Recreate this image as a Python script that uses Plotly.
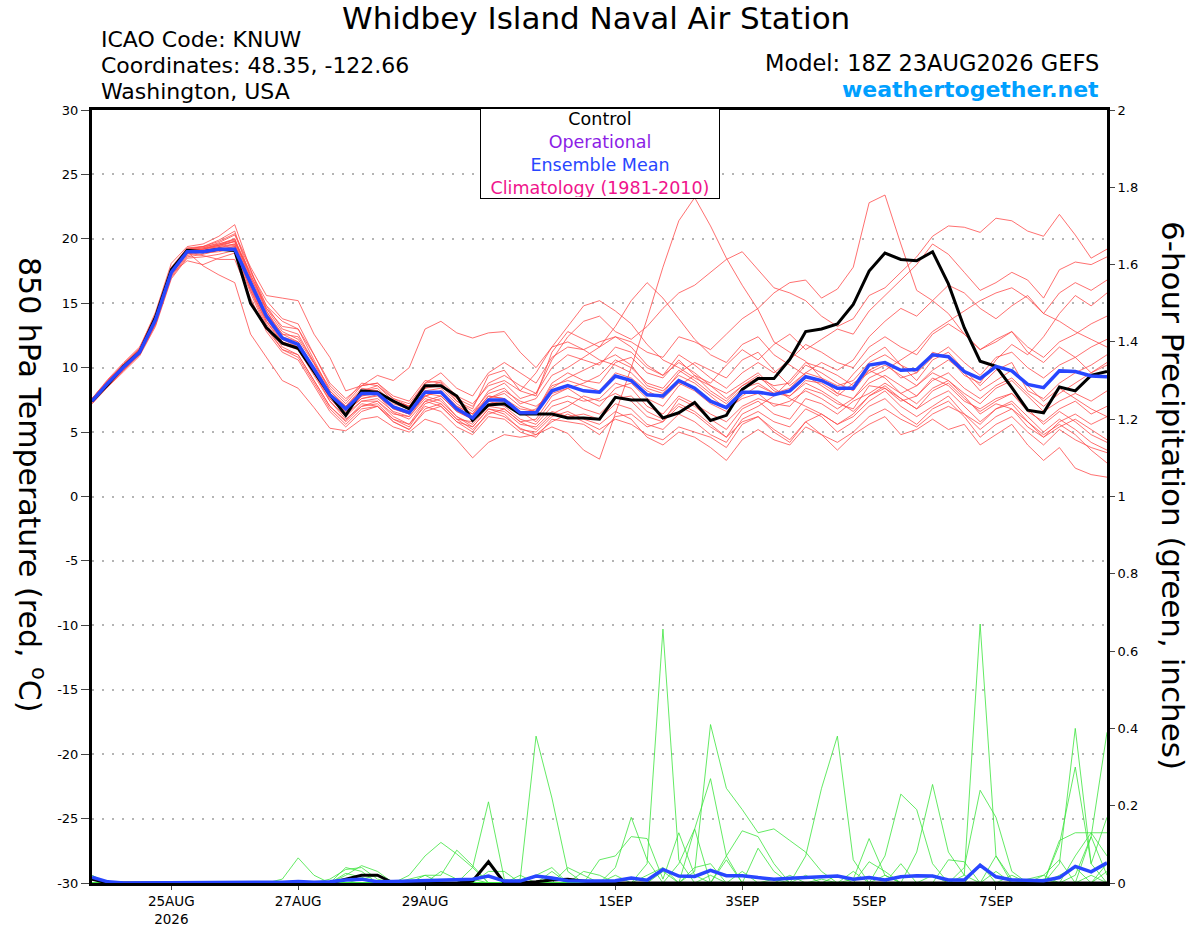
import pandas as pd
import plotly.graph_objects as go

# 6-hourly GEFS output, 18Z 23AUG2026 + 384h
horas = pd.date_range("2026-08-23 18:00", periods=65, freq="6h")

# 850 hPa temperature, ensemble members (C)
t_m01 = [7.3, 8.6, 9.9, 11.0, 13.4, 17.2, 18.8, 19.2, 19.6, 20.0,
         17.2, 14.6, 12.8, 12.2, 10.3, 8.0, 6.6,
         7.6, 7.9, 6.5, 6.0, 7.4, 7.0, 5.8, 5.0, 6.6, 6.2, 5.3, 4.8, 5.4, 4.9,
         3.6, 2.9, 6.5, 10.0, 13.8, 17.8, 21.4, 23.2, 21.0, 18.5, 16.4, 14.5, 12.0, 11.2,
         10.5, 9.2, 8.0, 9.5, 10.8, 11.6, 10.2, 9.0, 10.6, 11.2, 9.8, 8.6, 9.8, 10.4, 8.2, 7.6, 8.8, 9.6, 10.2, 11.0]
t_m02 = [7.6, 9.1, 10.4, 11.6, 14.1, 17.8, 19.3, 19.4, 19.8, 20.4,
         17.8, 15.6, 15.4, 15.2, 12.6, 10.8, 8.2,
         8.6, 9.4, 9.0, 10.0, 13.0, 13.6, 12.7, 12.3, 12.7, 12.8, 11.2, 10.0, 11.6, 13.2,
         14.8, 15.2, 14.4, 13.4, 11.8, 10.6, 10.0, 9.2, 8.6, 8.0, 8.8, 9.6, 8.4, 7.6,
         7.0, 6.4, 5.6, 6.2, 7.4, 8.2, 7.0, 6.2, 7.0, 7.8, 6.4, 5.6, 6.8, 7.2, 5.8, 4.6, 5.4, 6.0, 5.2, 4.4]
t_m03 = [7.5, 9.0, 10.3, 11.5, 14.3, 18.1, 19.4, 19.6, 20.2, 21.1,
         17.6, 14.8, 13.0, 12.6, 10.4, 8.4, 7.2,
         8.6, 8.8, 7.6, 7.0, 8.4, 8.9, 7.4, 6.6, 8.0, 8.4, 7.2, 7.6, 9.4, 10.0,
         10.8, 11.6, 12.4, 12.0, 11.2, 10.8, 12.4, 12.0, 11.4, 12.6, 13.8, 14.6, 15.8, 16.6,
         16.8, 15.4, 16.1, 17.8, 22.8, 23.4, 19.6, 16.0, 15.2, 14.2, 12.6, 11.4, 12.0, 12.8, 11.2, 10.4, 11.6, 10.8, 9.6, 10.2]
t_m04 = [7.2, 8.5, 9.7, 10.9, 13.2, 16.9, 18.5, 18.6, 18.8, 19.1,
         16.0, 13.6, 12.0, 11.4, 9.4, 7.4, 6.2,
         7.4, 7.6, 6.6, 6.2, 7.8, 8.2, 7.0, 6.4, 8.2, 8.8, 7.6, 8.0, 10.6, 12.4,
         13.6, 14.0, 12.8, 12.2, 13.2, 14.6, 15.8, 16.4, 17.4, 18.4, 19.0, 17.6, 16.2, 15.8,
         15.2, 14.0, 13.2, 13.8, 15.6, 16.2, 17.4, 18.6, 20.2, 21.0, 20.9, 20.5, 21.6, 21.4, 20.6, 20.2, 21.9, 20.3, 18.5, 19.2]
t_m05 = [7.4, 8.8, 10.1, 11.3, 13.8, 17.5, 19.0, 17.9, 17.2, 16.6,
         12.6, 10.8, 9.0, 8.4, 6.9, 5.3, 5.1,
         6.0, 6.2, 5.4, 5.0, 6.0, 5.6, 4.4, 3.0, 4.2, 4.8, 4.6, 4.8, 5.8, 6.4,
         5.8, 5.2, 6.0, 5.6, 4.8, 4.4, 5.4, 5.0, 4.6, 3.8, 5.6, 6.2, 5.0, 4.2,
         5.8, 4.8, 3.6, 4.8, 5.6, 6.2, 4.8, 5.2, 6.0, 5.2, 5.6, 4.0, 4.8, 5.6, 4.0, 2.8, 3.8, 2.2, 1.7, 1.5]
t_m06 = [7.5, 8.9, 10.2, 11.4, 13.6, 17.3, 18.3, 18.0, 18.5, 18.9,
         15.8, 13.0, 11.4, 11.0, 9.0, 7.0, 5.8,
         7.0, 7.2, 6.0, 5.4, 7.2, 7.6, 6.2, 5.6, 7.0, 6.8, 5.8, 6.0, 7.8, 8.4,
         7.6, 7.0, 8.4, 8.8, 7.6, 7.0, 8.6, 9.4, 8.8, 10.2, 11.4, 10.6, 11.8, 12.6,
         11.4, 12.2, 13.0, 12.6, 14.4, 15.6, 16.8, 18.0, 19.6, 18.8, 17.4, 16.0, 16.6, 17.4, 16.8, 15.4, 17.6, 18.2, 18.0, 18.6]
t_m07 = [7.6, 9.0, 10.2, 11.3, 13.9, 17.6, 19.1, 19.3, 19.5, 19.8,
         17.4, 15.2, 13.8, 13.4, 11.0, 8.6, 7.4,
         8.8, 8.6, 7.6, 7.2, 8.8, 9.0, 7.8, 7.2, 8.6, 9.0, 8.2, 7.8, 11.2, 12.8,
         12.2, 11.6, 13.2, 15.2, 16.6, 15.4, 13.8, 12.2, 11.0, 10.4, 11.8, 12.4, 11.0, 10.2,
         9.4, 8.6, 7.8, 8.8, 9.6, 10.2, 9.4, 8.6, 9.8, 10.6, 9.6, 8.2, 9.0, 9.8, 8.6, 7.4, 8.4, 7.6, 6.8, 6.2]
t_m08 = [7.3, 8.7, 9.9, 11.1, 13.5, 17.3, 19.0, 19.1, 19.4, 19.6,
         16.8, 14.2, 12.6, 12.0, 10.0, 8.0, 7.0,
         8.2, 8.4, 7.2, 6.8, 8.4, 8.6, 7.4, 6.8, 9.4, 9.8, 8.2, 9.6, 11.6, 12.0,
         11.4, 10.6, 10.2, 9.6, 8.4, 8.0, 9.6, 10.4, 9.8, 9.2, 10.6, 11.2, 9.8, 8.6,
         9.6, 10.4, 9.8, 10.6, 12.4, 13.6, 14.6, 14.0, 15.2, 16.4, 15.8, 14.6, 13.8, 14.8, 15.6, 14.2, 15.8, 16.6, 16.0, 16.8]
t_m09 = [7.4, 8.9, 10.0, 11.2, 13.8, 17.4, 18.9, 18.9, 19.0, 19.3,
         16.4, 13.6, 11.8, 11.4, 9.6, 7.6, 6.4,
         7.4, 7.4, 6.4, 6.2, 7.6, 7.2, 6.0, 5.8, 7.2, 7.4, 6.6, 5.8, 7.4, 7.8,
         7.4, 7.6, 8.8, 8.4, 7.0, 6.4, 7.8, 7.2, 6.4, 5.8, 7.0, 7.6, 7.2, 7.0,
         8.4, 8.0, 7.2, 6.8, 8.6, 8.4, 7.4, 7.8, 9.2, 8.6, 7.4, 6.8, 7.6, 8.0, 6.6, 5.8, 6.8, 7.4, 6.4, 7.0]
t_m10 = [7.5, 8.8, 10.0, 11.2, 13.7, 17.5, 19.2, 19.3, 19.7, 20.3,
         17.6, 14.4, 12.4, 12.0, 9.8, 7.6, 6.4,
         7.8, 8.0, 6.8, 6.4, 7.8, 7.4, 6.2, 5.4, 6.8, 6.6, 5.6, 5.4, 6.6, 6.2,
         6.4, 6.0, 7.2, 6.8, 5.6, 5.2, 6.4, 5.8, 4.8, 4.2, 6.0, 6.6, 5.8, 5.4,
         6.8, 6.2, 5.0, 5.8, 7.0, 7.6, 6.4, 5.6, 6.8, 7.4, 6.2, 4.6, 5.6, 6.2, 5.0, 4.0, 5.2, 4.4, 3.8, 3.4]
t_m11 = [7.4, 8.8, 10.0, 11.2, 13.6, 17.4, 19.2, 19.4, 19.9, 20.6,
         17.0, 14.4, 12.6, 12.4, 10.4, 8.2, 7.0,
         8.4, 8.2, 7.4, 7.0, 8.0, 7.8, 6.6, 6.0, 7.6, 8.0, 7.0, 6.6, 8.8, 9.6,
         9.0, 8.8, 10.4, 10.8, 9.6, 9.2, 10.6, 9.4, 8.2, 7.4, 8.6, 9.2, 8.6, 8.8,
         10.2, 9.6, 8.8, 8.2, 9.8, 10.4, 9.2, 9.6, 11.2, 10.8, 9.4, 8.8, 10.6, 11.8, 11.0, 12.4, 14.2, 15.6, 14.8, 15.8]
t_m12 = [7.2, 8.6, 9.8, 11.0, 13.4, 17.1, 18.7, 19.0, 19.3, 19.6,
         16.2, 13.4, 11.6, 11.0, 9.0, 7.0, 5.9,
         7.2, 7.0, 6.0, 5.6, 7.0, 6.6, 5.4, 4.8, 6.2, 6.0, 5.0, 4.6, 6.0, 5.8,
         5.6, 4.8, 6.2, 6.4, 5.4, 5.8, 7.6, 7.0, 6.0, 5.2, 6.8, 7.4, 6.4, 6.0,
         7.6, 7.2, 6.4, 7.4, 8.0, 8.8, 8.0, 7.2, 8.4, 9.0, 7.8, 6.4, 7.2, 6.8, 5.4, 4.6, 5.8, 6.4, 5.6, 6.2]
t_m13 = [7.6, 9.0, 10.3, 11.4, 14.0, 17.7, 19.2, 19.4, 19.6, 19.9,
         17.0, 14.6, 13.2, 13.0, 11.0, 8.8, 7.6,
         8.6, 8.8, 7.8, 7.4, 9.0, 8.8, 7.6, 7.0, 8.8, 9.4, 8.6, 8.0, 10.0, 11.0,
         10.6, 10.2, 11.6, 11.2, 10.0, 9.4, 11.0, 10.2, 9.2, 8.4, 9.6, 10.4, 9.6, 10.6,
         11.8, 11.2, 10.4, 10.0, 11.6, 12.4, 11.6, 11.0, 12.6, 13.4, 12.6, 11.4, 12.2, 12.8, 11.6, 10.8, 12.0, 12.6, 13.4, 14.0]
t_m14 = [7.3, 8.7, 10.0, 11.1, 13.6, 17.3, 18.9, 19.0, 19.2, 19.4,
         16.4, 13.8, 12.2, 11.6, 9.6, 7.4, 6.0,
         7.0, 7.4, 6.2, 5.6, 7.4, 7.8, 6.6, 6.0, 7.4, 7.0, 6.0, 5.6, 7.0, 7.4,
         6.8, 6.4, 7.6, 7.8, 6.6, 6.0, 7.2, 6.6, 5.6, 4.6, 6.4, 7.0, 7.8, 9.0,
         10.4, 10.0, 9.4, 8.6, 9.8, 9.2, 8.0, 8.6, 9.6, 9.0, 8.0, 7.2, 8.4, 9.0, 7.8, 6.6, 7.4, 8.0, 7.4, 8.2]
t_m15 = [7.5, 8.9, 10.1, 11.3, 13.9, 17.6, 19.1, 19.2, 19.5, 20.0,
         16.8, 14.0, 12.2, 11.8, 9.8, 7.8, 6.8,
         8.0, 8.2, 7.0, 6.6, 8.2, 8.0, 6.8, 6.2, 7.8, 7.6, 6.4, 6.8, 8.4, 9.2,
         9.8, 10.4, 11.0, 10.2, 8.6, 8.2, 9.4, 8.8, 7.8, 6.8, 7.6, 8.0, 7.0, 7.4,
         8.2, 7.6, 6.8, 7.6, 8.8, 9.4, 8.6, 7.8, 9.0, 9.6, 8.4, 7.6, 8.6, 9.2, 8.0, 7.0, 8.0, 8.8, 9.6, 10.4]
t_m16 = [7.4, 8.7, 10.0, 11.2, 13.6, 17.3, 19.0, 19.1, 19.3, 19.5,
         16.2, 13.8, 12.0, 11.6, 9.8, 7.8, 6.6,
         7.6, 7.8, 6.8, 6.4, 7.8, 8.2, 7.0, 6.4, 7.6, 8.2, 7.4, 7.0, 8.0, 8.4,
         8.8, 9.4, 10.6, 10.0, 8.8, 8.4, 9.8, 9.0, 8.0, 7.2, 8.4, 8.8, 8.0, 7.8,
         9.0, 8.8, 8.0, 7.6, 9.2, 9.8, 10.6, 11.4, 12.8, 13.6, 14.4, 15.2, 15.8, 16.2, 15.4, 14.2, 13.6, 12.8, 12.2, 11.6]
t_m17 = [7.6, 9.0, 10.3, 11.5, 14.0, 17.6, 18.9, 18.7, 18.4, 18.4,
         15.4, 12.8, 11.2, 10.6, 8.6, 6.6, 5.4,
         6.6, 7.0, 5.8, 5.2, 6.8, 7.2, 6.0, 5.2, 6.4, 6.8, 5.8, 5.2, 6.4, 7.0,
         7.8, 7.4, 8.0, 7.4, 6.2, 5.8, 7.0, 6.4, 5.4, 4.6, 5.8, 6.2, 5.2, 4.4,
         5.8, 6.4, 5.6, 6.4, 7.8, 8.6, 7.6, 6.8, 7.6, 8.2, 7.0, 5.8, 6.8, 7.4, 6.2, 5.0, 6.0, 5.2, 4.2, 3.6]
t_m18 = [7.3, 8.6, 9.8, 11.0, 13.3, 17.0, 18.6, 18.8, 19.1, 19.4,
         16.0, 13.2, 11.4, 10.8, 8.8, 6.8, 5.6,
         6.8, 7.0, 5.8, 5.2, 6.6, 7.0, 5.8, 5.4, 6.8, 6.4, 5.2, 5.0, 6.2, 6.6,
         6.0, 5.6, 6.6, 6.0, 4.6, 4.0, 5.0, 4.6, 3.8, 2.8, 4.4, 5.2, 4.4, 4.0,
         5.4, 4.8, 4.2, 5.0, 6.2, 6.8, 6.0, 5.4, 6.4, 7.0, 6.4, 5.2, 6.2, 6.8, 5.8, 4.8, 5.6, 4.8, 3.6, 2.6]
t_m19 = [7.5, 8.9, 10.2, 11.4, 13.8, 17.5, 19.1, 19.2, 19.4, 19.8,
         17.2, 14.8, 13.6, 13.0, 10.6, 8.2, 7.0,
         8.2, 8.6, 7.4, 7.0, 8.8, 9.6, 8.4, 7.8, 9.6, 10.4, 9.6, 8.8, 10.8, 11.6,
         11.4, 12.0, 12.4, 11.6, 10.2, 9.4, 10.4, 9.6, 8.6, 7.6, 8.6, 9.4, 8.2, 7.8,
         8.8, 8.2, 7.4, 6.6, 7.8, 8.4, 7.6, 6.8, 8.2, 8.8, 7.6, 6.6, 7.4, 8.0, 6.8, 5.6, 6.6, 5.8, 4.8, 4.2]
t_m20 = [7.4, 8.8, 10.1, 11.2, 13.7, 17.4, 19.0, 19.2, 19.5, 19.8,
         16.6, 14.0, 12.2, 11.8, 10.0, 8.0, 6.8,
         7.8, 8.2, 7.0, 6.6, 8.2, 8.4, 7.2, 6.4, 7.8, 7.6, 6.8, 6.6, 8.6, 9.0,
         8.6, 8.2, 9.6, 9.2, 8.2, 7.6, 8.8, 8.2, 7.2, 6.6, 7.8, 8.6, 8.0, 8.4,
         9.6, 9.2, 8.6, 9.0, 10.4, 11.0, 10.2, 9.6, 10.8, 11.6, 10.4, 9.4, 10.8, 11.2, 10.0, 9.2, 10.2, 10.8, 11.6, 12.2]

t_controle = [7.4, 8.7, 10.1, 11.2, 13.9, 17.6, 19.1, 19.0, 19.2, 19.1,
              15.0, 13.1, 11.9, 11.5, 9.7, 7.9, 6.3, 8.2, 8.1, 7.4,
              6.8, 8.6, 8.6, 7.8, 5.9, 7.1, 7.2, 6.4, 6.4, 6.4,
              6.1, 6.1, 6.0, 7.7, 7.5, 7.5, 6.1, 6.5, 7.3, 5.9,
              6.3, 8.3, 9.15, 9.15, 10.65, 12.8, 13.0, 13.4, 14.9, 17.5,
              18.9, 18.4, 18.3, 19.0, 16.5, 13.1, 10.5, 10.1, 8.45, 6.7,
              6.5, 8.5, 8.2, 9.4, 9.7]
t_media = [7.4, 8.8, 10.05, 11.2, 13.7, 17.4, 19.0, 19.0, 19.2, 19.2,
           16.6, 14.0, 12.3, 11.8, 9.9, 7.9, 6.8, 8.0, 8.0, 6.95,
           6.5, 8.1, 8.1, 6.8, 6.1, 7.5, 7.5, 6.5, 6.5, 8.2,
           8.6, 8.2, 8.1, 9.35, 9.0, 7.9, 7.8, 9.0, 8.4, 7.4,
           6.9, 8.1, 8.1, 7.9, 8.2, 9.3, 9.0, 8.4, 8.4, 10.2,
           10.4, 9.8, 9.85, 11.0, 10.85, 9.7, 9.15, 10.1, 9.75, 8.7,
           8.45, 9.75, 9.7, 9.35, 9.3]

# 6-hour precipitation, ensemble members (inches)
p_m01 = [0.01, 0, 0, 0, 0, 0, 0, 0, 0, 0,
         0, 0, 0.01, 0.065, 0.02, 0, 0, 0, 0, 0,
         0, 0, 0, 0, 0, 0, 0, 0, 0, 0,
         0, 0, 0, 0, 0, 0.05, 0.657, 0.06, 0, 0,
         0, 0, 0, 0, 0, 0, 0, 0, 0, 0,
         0, 0, 0, 0, 0, 0.02, 0.67, 0.07, 0, 0,
         0, 0.05, 0.40, 0.05, 0]
p_m02 = [0, 0, 0, 0, 0, 0, 0, 0, 0, 0,
         0, 0, 0, 0, 0, 0, 0, 0, 0, 0,
         0.02, 0.07, 0.105, 0.075, 0.04, 0, 0, 0, 0, 0,
         0, 0, 0, 0, 0, 0, 0, 0, 0.03, 0.41,
         0.245, 0.19, 0.13, 0.14, 0.11, 0.08, 0.03, 0, 0, 0,
         0, 0, 0, 0, 0, 0, 0, 0, 0, 0,
         0, 0, 0, 0, 0]
p_m03 = [0, 0, 0, 0, 0, 0, 0, 0, 0, 0,
         0, 0, 0, 0, 0, 0, 0, 0, 0, 0,
         0, 0, 0, 0, 0.04, 0.21, 0.01, 0, 0, 0,
         0, 0, 0, 0, 0, 0, 0, 0, 0, 0,
         0, 0, 0, 0, 0, 0.07, 0.245, 0.38, 0.06, 0,
         0, 0, 0, 0, 0, 0, 0, 0, 0, 0,
         0, 0, 0.02, 0.12, 0.39]
p_m04 = [0, 0, 0, 0, 0, 0, 0, 0, 0, 0,
         0, 0, 0, 0, 0, 0, 0, 0, 0, 0,
         0, 0, 0, 0, 0, 0, 0, 0.01, 0.38, 0.22,
         0.03, 0, 0, 0, 0, 0, 0, 0, 0, 0,
         0, 0, 0, 0, 0, 0, 0, 0, 0, 0,
         0, 0, 0.08, 0.255, 0.08, 0.02, 0, 0, 0, 0,
         0, 0.10, 0.30, 0.05, 0.17]
p_m05 = [0, 0, 0, 0, 0, 0, 0, 0, 0, 0,
         0, 0, 0, 0, 0, 0, 0, 0, 0, 0,
         0, 0, 0, 0, 0, 0, 0, 0, 0, 0,
         0, 0, 0, 0.04, 0.17, 0.06, 0, 0, 0.14, 0.27,
         0.07, 0, 0, 0, 0, 0, 0, 0, 0, 0,
         0.07, 0.23, 0.19, 0.05, 0, 0.04, 0.24, 0.17, 0.03, 0,
         0, 0, 0, 0, 0]
p_m06 = [0, 0, 0, 0, 0, 0, 0, 0, 0, 0,
         0, 0, 0, 0, 0, 0, 0, 0, 0, 0,
         0, 0, 0, 0, 0, 0, 0, 0, 0, 0,
         0, 0, 0.06, 0.07, 0.12, 0.115, 0.01, 0.13, 0.02, 0,
         0, 0, 0, 0, 0, 0, 0, 0, 0.01, 0.115,
         0.02, 0, 0, 0, 0, 0, 0, 0, 0, 0,
         0, 0.11, 0.13, 0.13, 0.07]
p_m07 = [0, 0, 0, 0, 0, 0, 0, 0, 0, 0,
         0, 0, 0, 0, 0, 0, 0, 0, 0, 0,
         0, 0.02, 0.02, 0.085, 0.045, 0, 0, 0, 0, 0,
         0, 0, 0, 0, 0, 0, 0, 0, 0, 0,
         0.07, 0.135, 0.12, 0.05, 0, 0, 0, 0, 0, 0,
         0, 0, 0, 0, 0, 0, 0, 0.07, 0.01, 0,
         0.02, 0, 0, 0.12, 0.02]
p_m08 = [0, 0, 0, 0, 0, 0, 0, 0, 0, 0,
         0, 0, 0, 0, 0, 0, 0.04, 0.03, 0, 0,
         0, 0, 0, 0, 0, 0, 0, 0, 0, 0.03,
         0, 0, 0, 0, 0, 0, 0, 0.05, 0.14, 0,
         0, 0, 0, 0, 0, 0, 0, 0, 0, 0.055,
         0.03, 0, 0, 0, 0, 0, 0, 0, 0, 0,
         0, 0, 0, 0, 0.05]
p_m09 = [0.02, 0, 0, 0, 0, 0, 0, 0, 0, 0,
         0, 0, 0, 0, 0, 0, 0.02, 0.045, 0.03, 0,
         0, 0, 0, 0, 0, 0, 0, 0, 0, 0,
         0.04, 0.02, 0, 0, 0, 0, 0, 0, 0, 0,
         0.06, 0, 0, 0, 0, 0, 0, 0, 0, 0,
         0, 0, 0, 0, 0.06, 0.055, 0, 0, 0, 0,
         0, 0, 0, 0, 0]
p_m10 = [0, 0, 0, 0, 0, 0, 0, 0, 0, 0,
         0, 0, 0, 0, 0, 0.01, 0.035, 0.04, 0.01, 0,
         0, 0, 0, 0, 0, 0.03, 0.03, 0, 0, 0,
         0, 0, 0, 0, 0, 0, 0.03, 0, 0, 0,
         0, 0, 0, 0, 0, 0.02, 0, 0, 0.03, 0,
         0, 0, 0, 0, 0, 0, 0, 0, 0, 0.01,
         0.02, 0.06, 0, 0, 0]
p_m11 = [0, 0, 0, 0, 0, 0, 0, 0, 0, 0,
         0, 0, 0, 0, 0, 0, 0, 0, 0, 0,
         0, 0, 0.03, 0.01, 0, 0, 0, 0, 0, 0,
         0, 0.03, 0.02, 0, 0, 0, 0, 0, 0, 0,
         0, 0, 0, 0, 0.02, 0, 0, 0, 0, 0,
         0, 0.05, 0, 0, 0, 0, 0, 0, 0.02, 0,
         0, 0, 0.07, 0.13, 0.13]
p_m12 = [0, 0, 0, 0, 0, 0, 0, 0, 0, 0,
         0, 0, 0, 0, 0, 0, 0, 0.01, 0.02, 0,
         0, 0, 0, 0, 0, 0, 0, 0, 0.02, 0.04,
         0, 0, 0, 0, 0, 0.02, 0.04, 0, 0, 0,
         0, 0, 0.09, 0.03, 0, 0, 0, 0, 0, 0,
         0, 0, 0, 0.02, 0, 0, 0, 0, 0, 0,
         0, 0.02, 0.04, 0, 0]
p_m13 = [0, 0, 0, 0, 0, 0, 0, 0, 0, 0,
         0, 0, 0, 0, 0, 0, 0, 0, 0, 0,
         0.01, 0.02, 0, 0, 0, 0, 0, 0.02, 0, 0,
         0, 0, 0, 0, 0, 0, 0, 0, 0.04, 0.05,
         0, 0, 0, 0, 0, 0, 0.01, 0, 0, 0,
         0, 0, 0, 0, 0, 0, 0, 0.03, 0, 0,
         0, 0, 0, 0, 0.03]
p_m14 = [0, 0, 0, 0, 0, 0, 0, 0, 0, 0,
         0, 0, 0, 0, 0, 0, 0, 0, 0, 0,
         0, 0, 0, 0, 0, 0, 0, 0, 0, 0,
         0, 0, 0, 0.02, 0, 0, 0, 0, 0, 0,
         0, 0.03, 0, 0, 0, 0, 0, 0, 0, 0,
         0.02, 0, 0, 0, 0, 0, 0.05, 0, 0, 0,
         0, 0, 0, 0.02, 0]
p_m15 = [0.015, 0, 0, 0, 0, 0, 0, 0, 0, 0,
         0, 0, 0, 0, 0, 0, 0.025, 0.015, 0, 0,
         0, 0, 0, 0, 0.01, 0, 0, 0, 0, 0.015,
         0, 0, 0, 0, 0, 0, 0, 0, 0, 0.02,
         0, 0, 0, 0.01, 0, 0, 0, 0.02, 0, 0,
         0, 0, 0, 0, 0, 0, 0, 0, 0, 0,
         0.01, 0, 0, 0, 0]

p_controle = [0.01, 0, 0, 0, 0, 0, 0, 0, 0, 0,
              0, 0, 0, 0, 0, 0, 0.01, 0.02, 0.02, 0,
              0, 0, 0, 0, 0.005, 0.055, 0, 0, 0.003, 0.008,
              0.01, 0.005, 0, 0, 0, 0, 0, 0, 0, 0,
              0, 0, 0, 0, 0, 0, 0, 0, 0, 0,
              0, 0, 0, 0, 0, 0, 0, 0, 0, 0,
              0, 0, 0, 0, 0]
p_media = [0.015, 0.003, 0, 0, 0, 0, 0, 0, 0, 0,
           0, 0, 0.002, 0.004, 0.002, 0.003, 0.008, 0.01, 0.003, 0.004,
           0.005, 0.006, 0.008, 0.01, 0.01, 0.018, 0.005, 0.005, 0.018, 0.013,
           0.006, 0.005, 0.006, 0.006, 0.013, 0.007, 0.035, 0.018, 0.017, 0.033,
           0.019, 0.019, 0.014, 0.010, 0.012, 0.014, 0.014, 0.018, 0.010, 0.014,
           0.008, 0.016, 0.019, 0.018, 0.008, 0.008, 0.046, 0.016, 0.008, 0.006,
           0.006, 0.014, 0.043, 0.029, 0.052]

membros_t = [t_m01, t_m02, t_m03, t_m04, t_m05, t_m06, t_m07, t_m08, t_m09, t_m10,
             t_m11, t_m12, t_m13, t_m14, t_m15, t_m16, t_m17, t_m18, t_m19, t_m20]
membros_p = [p_m01, p_m02, p_m03, p_m04, p_m05, p_m06, p_m07, p_m08,
             p_m09, p_m10, p_m11, p_m12, p_m13, p_m14, p_m15]

# tick labels
datas_ticks = ["2026-08-25", "2026-08-27", "2026-08-29", "2026-09-01",
               "2026-09-03", "2026-09-05", "2026-09-07"]
textos_ticks = ["25AUG<br>2026", "27AUG", "29AUG", "1SEP", "3SEP", "5SEP", "7SEP"]
temp_ticks = [30, 25, 20, 15, 10, 5, 0, -5, -10, -15, -20, -25, -30]
prec_ticks = [0, 0.2, 0.4, 0.6, 0.8, 1, 1.2, 1.4, 1.6, 1.8, 2]

legenda_textos = ["Control", "Operational", "Ensemble Mean", "Climatology (1981-2010)"]
legenda_cores = ["#000000", "#8C1EE6", "#2846FF", "#F0148C"]

FONTE = "DejaVu Sans"
VERMELHO = "rgb(255,75,75)"
VERDE = "rgb(60,228,60)"
AZUL = "#2846FF"

# plot area in pixels: x 92..1107, y 110..883
def px(x):
    return (x - 92) / 1015

def py(y):
    return (883 - y) / 773

fig = go.Figure()

for m in membros_t:
    fig.add_trace(go.Scatter(x=horas, y=m, mode="lines",
                             line=dict(color=VERMELHO, width=0.8), hoverinfo="skip"))
fig.add_trace(go.Scatter(x=horas, y=t_controle, mode="lines", line=dict(color="black", width=3)))
fig.add_trace(go.Scatter(x=horas, y=t_media, mode="lines", line=dict(color=AZUL, width=3.5)))

for p in membros_p:
    fig.add_trace(go.Scatter(x=horas, y=p, mode="lines", yaxis="y2",
                             line=dict(color=VERDE, width=0.8), hoverinfo="skip"))
fig.add_trace(go.Scatter(x=horas, y=p_controle, mode="lines", yaxis="y2",
                         line=dict(color="black", width=3)))
fig.add_trace(go.Scatter(x=horas, y=p_media, mode="lines", yaxis="y2",
                         line=dict(color=AZUL, width=3.5)))

anotacoes = [
    dict(text="Whidbey Island Naval Air Station", x=px(596), y=py(18), font=dict(size=31)),
    dict(text="ICAO Code: KNUW", x=px(99), y=py(39), xanchor="left", font=dict(size=22)),
    dict(text="Coordinates: 48.35, -122.66", x=px(99), y=py(66), xanchor="left", font=dict(size=22)),
    dict(text="Washington, USA", x=px(99), y=py(92), xanchor="left", font=dict(size=22)),
    dict(text="Model: 18Z 23AUG2026 GEFS", x=px(1101), y=py(63), xanchor="right", font=dict(size=22.5)),
    dict(text="<b>weathertogether.net</b>", x=px(1101), y=py(89), xanchor="right",
         font=dict(size=22, color="#00A0FF")),
    dict(text="850 hPa Temperature (red, <sup>o</sup>C)", x=px(32), y=py(485),
         textangle=90, font=dict(size=30)),
    dict(text="6-hour Precipitation (green, inches)", x=px(1173), y=py(495),
         textangle=90, font=dict(size=31)),
    dict(text="<br>".join(f"<span style='color:{c}'>{t}</span>"
                          for t, c in zip(legenda_textos, legenda_cores)),
         x=px(600), y=py(108), yanchor="top", align="center", width=236, height=87,
         bordercolor="black", borderwidth=1, borderpad=1, bgcolor="white",
         font=dict(size=17.5)),
]
for a in anotacoes:
    a.setdefault("xanchor", "center")
    a.setdefault("yanchor", "middle")
    a.update(xref="paper", yref="paper", showarrow=False)
    a["font"] = dict(family=FONTE, color=a["font"].get("color", "black"), size=a["font"]["size"])

fig.update_layout(
    width=1200, height=927,
    margin=dict(l=92, r=93, t=110, b=44, autoexpand=False),
    paper_bgcolor="white", plot_bgcolor="white",
    showlegend=False,
    font=dict(family=FONTE, color="black"),
    annotations=anotacoes,
    xaxis=dict(range=[horas[0], horas[-1]], tickvals=datas_ticks, ticktext=textos_ticks,
               showgrid=False, zeroline=False, showline=True, linewidth=3, linecolor="black",
               mirror=True, ticks="outside", ticklen=4, tickwidth=1, tickfont=dict(size=13.5),
               automargin=False),
    yaxis=dict(range=[-30, 30], tickvals=temp_ticks, ticktext=[str(v) for v in temp_ticks],
               showgrid=True, gridcolor="#B4B4B4", griddash="2px,8px", gridwidth=1.5,
               zeroline=False, showline=True, linewidth=3, linecolor="black", mirror=True,
               ticks="outside", ticklen=8, tickwidth=1, tickfont=dict(size=13),
               automargin=False),
    yaxis2=dict(range=[0, 2], overlaying="y", side="right", tickvals=prec_ticks,
                ticktext=[f"{v:g}" for v in prec_ticks], showgrid=False, zeroline=False,
                showline=True, linewidth=3, linecolor="black",
                ticks="outside", ticklen=5, tickwidth=1, tickfont=dict(size=13),
                automargin=False),
)

# the page body has a default margin; drop it so the figure sits at the window corner
fig.write_html("out.html", config={"displayModeBar": False},
               post_script="document.body.style.margin='0px';")
